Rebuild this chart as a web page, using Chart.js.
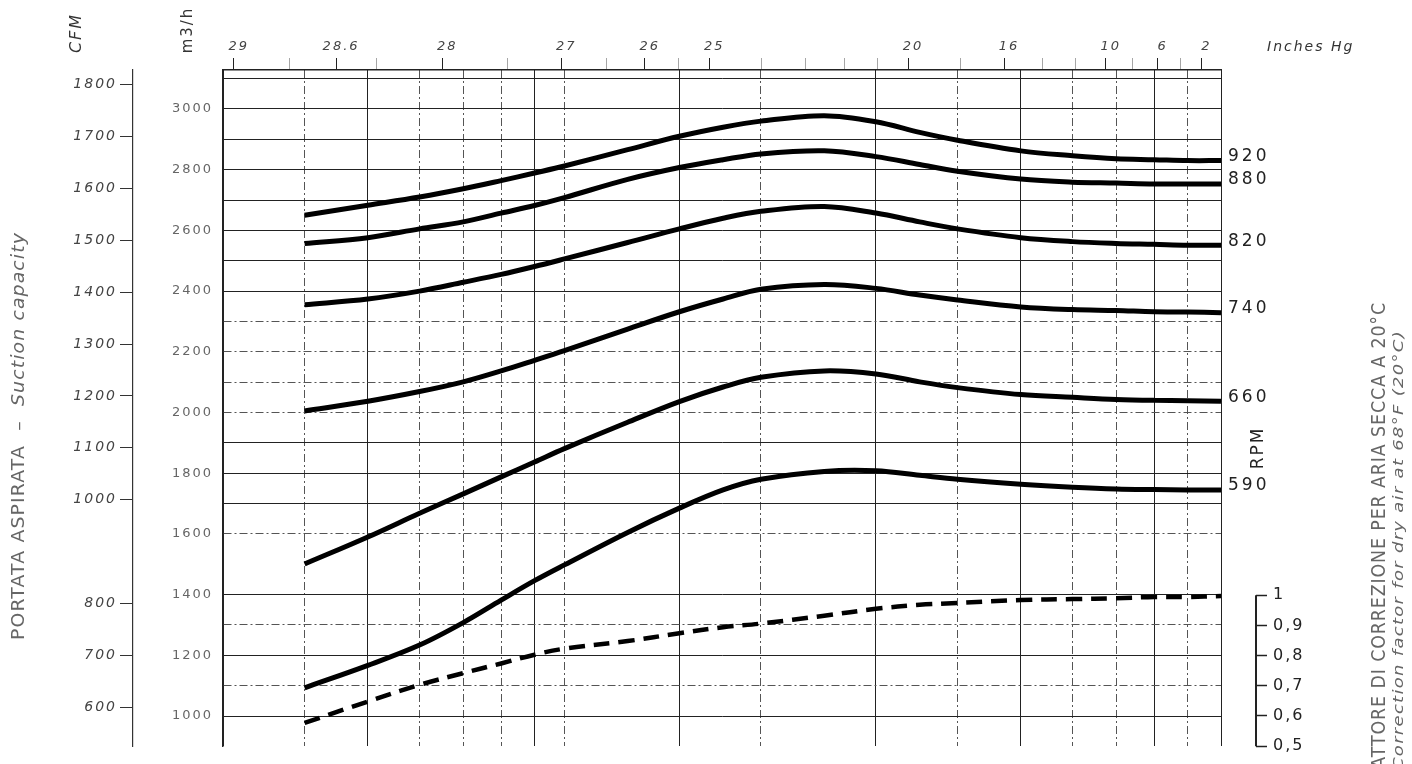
<!DOCTYPE html>
<html>
<head>
<meta charset="utf-8">
<title>Portata aspirata - Suction capacity</title>
<script src="https://cdn.jsdelivr.net/npm/chart.js@4.4.1/dist/chart.umd.min.js"></script>
<style>
    html, body { margin: 0; padding: 0; background: #fff; }
    #wrap { width: 1412px; height: 764px; }
</style>
</head>
<body>
<div id="wrap"><canvas id="fanChart" width="1412" height="764"></canvas></div>
<script>
// absolute pressure (mbar) where the curves were read, log axis
const pressureMbar = [40, 50, 60, 70, 80, 90, 100, 125, 150, 175, 200, 250, 300, 350, 400, 500, 600, 700, 800, 900, 1013];

// suction capacity m3/h for each speed
const rpmNames = ['920', '880', '820', '740', '660', '590'];
const flow920 = [2650, 2683, 2710, 2737, 2764, 2789, 2812, 2866, 2910, 2940, 2960, 2978, 2958, 2923, 2897, 2862, 2846, 2836, 2833, 2830, 2830];
const flow880 = [2557, 2576, 2605, 2628, 2657, 2682, 2708, 2768, 2807, 2833, 2852, 2862, 2843, 2817, 2795, 2769, 2759, 2756, 2753, 2753, 2753];
const flow820 = [2355, 2374, 2400, 2429, 2455, 2481, 2506, 2560, 2605, 2640, 2663, 2679, 2657, 2628, 2605, 2576, 2563, 2557, 2554, 2551, 2551];
const flow740 = [2005, 2037, 2069, 2101, 2137, 2172, 2204, 2275, 2332, 2374, 2406, 2422, 2409, 2387, 2371, 2348, 2339, 2336, 2332, 2331, 2329];
const flow660 = [1501, 1590, 1668, 1732, 1788, 1837, 1881, 1968, 2036, 2084, 2116, 2137, 2127, 2101, 2082, 2059, 2050, 2043, 2040, 2039, 2037];
const flow590 = [1093, 1167, 1234, 1308, 1382, 1446, 1498, 1605, 1685, 1745, 1780, 1806, 1808, 1793, 1780, 1764, 1754, 1748, 1746, 1745, 1745];

// correction factor for dry air at 20 C
const correctionFactor = [0.577, 0.648, 0.703, 0.742, 0.774, 0.803, 0.823, 0.848, 0.874, 0.894, 0.906, 0.932, 0.955, 0.968, 0.974, 0.984, 0.987, 0.990, 0.994, 0.994, 0.997];

// tick values
const inchesMajor = [29, 28.6, 28, 27, 26, 25, 20, 16, 10, 6, 2];
const inchesMinor = [28.8, 28.4, 27.5, 26.5, 25.5, 24, 23, 22, 21, 18, 14, 12, 8, 4];
const gridPressure = [30, 40, 50, 60, 70, 80, 90, 100, 150, 200, 300, 400, 500, 600, 700, 800, 900, 1013];
const gridFlow = [1000, 1100, 1200, 1300, 1400, 1600, 1700, 1800, 1900, 2000, 2100, 2200, 2300, 2400, 2500, 2600, 2700, 2800, 2900, 3000, 3100];
const flowLabels = [1000, 1200, 1400, 1600, 1800, 2000, 2200, 2400, 2600, 2800, 3000];
const cfmTicks = [600, 700, 800, 1000, 1100, 1200, 1300, 1400, 1500, 1600, 1700, 1800];
const factorTicks = [0.5, 0.6, 0.7, 0.8, 0.9, 1];

// which grid lines are dash-dot on the original sheet
const dashedPressure = [40, 60, 70, 80, 100, 200, 400, 600, 700, 900];
const dashedFlow = [1100, 1300, 1600, 2000, 2100, 2200, 2300];

const FONT = "'DejaVu Sans', 'Liberation Sans', sans-serif";
const DASH_DOT = [8, 3, 2, 3];

function inchesToMbar(h) {
    return (29.92 - h) * 33.864;
}

function series(values) {
    return pressureMbar.map((p, i) => ({ x: p, y: values[i] }));
}

const rpmSeries = [flow920, flow880, flow820, flow740, flow660, flow590];

const datasets = rpmSeries.map((vals, i) => ({
    label: rpmNames[i] + ' RPM',
    data: series(vals),
    xAxisID: 'x',
    yAxisID: 'y',
    borderColor: '#000',
    borderWidth: 5,
    pointRadius: 0,
    tension: 0.35,
    fill: false
}));

datasets.push({
    label: 'Fattore di correzione',
    data: series(correctionFactor),
    xAxisID: 'x',
    yAxisID: 'yf',
    borderColor: '#000',
    borderWidth: 4.5,
    borderDash: [16, 9],
    pointRadius: 0,
    tension: 0.35,
    fill: false
});

function rotatedText(ctx, parts, cx, cy, fitLen) {
    ctx.save();
    ctx.translate(cx, cy);
    ctx.rotate(-Math.PI / 2);
    let total = 0;
    parts.forEach(p => {
        ctx.font = p.font;
        p.w = ctx.measureText(p.text).width;
        total += p.w;
    });
    if (fitLen) ctx.scale(fitLen / total, 1);
    ctx.textBaseline = 'middle';
    ctx.textAlign = 'left';
    let x = -total / 2;
    parts.forEach(p => {
        ctx.font = p.font;
        ctx.fillStyle = p.color;
        ctx.fillText(p.text, x, 0);
        x += p.w;
    });
    ctx.restore();
}

const sheetText = {
    id: 'sheetText',
    beforeDraw(chart) {
        chart.ctx.letterSpacing = '2px';
    },
    afterDraw(chart) {
        const ctx = chart.ctx;

        // axis line of the correction factor scale, only from 1 down
        const yf = chart.scales.yf;
        ctx.save();
        ctx.strokeStyle = '#222';
        ctx.lineWidth = 2;
        ctx.beginPath();
        ctx.moveTo(yf.left, yf.getPixelForValue(1));
        ctx.lineTo(yf.left, yf.bottom);
        ctx.stroke();
        ctx.restore();

        // speed labels at the end of each curve
        ctx.save();
        ctx.letterSpacing = '3px';
        ctx.font = '17px ' + FONT;
        ctx.fillStyle = '#222';
        ctx.textBaseline = 'middle';
        ctx.textAlign = 'left';
        rpmNames.forEach((name, i) => {
            const pts = chart.getDatasetMeta(i).data;
            const last = pts[pts.length - 1];
            ctx.fillText(name, last.x + 7, last.y - 4);
        });
        ctx.letterSpacing = '2px';
        ctx.font = 'italic 14px ' + FONT;
        ctx.fillStyle = '#333';
        ctx.textBaseline = 'alphabetic';
        ctx.fillText('Inches Hg', 1267, 51);
        ctx.restore();

        ctx.save();
        ctx.letterSpacing = '2px';
        rotatedText(ctx, [{ text: 'RPM', font: '17px ' + FONT, color: '#222' }], 1259, 448);
        rotatedText(ctx, [{ text: 'CFM', font: 'italic 16px ' + FONT, color: '#333' }], 77, 33);
        rotatedText(ctx, [{ text: 'm3/h', font: '15px ' + FONT, color: '#333' }], 188, 30);
        ctx.letterSpacing = '1px';
        rotatedText(ctx, [
            { text: 'PORTATA ASPIRATA  \u2013  ', font: '17px ' + FONT, color: '#666' },
            { text: 'Suction capacity', font: 'italic 17px ' + FONT, color: '#666' }
        ], 20, 436, 408);
        rotatedText(ctx, [
            { text: 'FATTORE DI CORREZIONE PER ARIA SECCA A 20\u00B0C', font: '19px ' + FONT, color: '#666' }
        ], 1380, 540, 476);
        rotatedText(ctx, [
            { text: 'Correction factor for dry air at 68\u00B0F (20\u00B0C)', font: 'italic 14px ' + FONT, color: '#666' }
        ], 1399, 550, 440);
        ctx.restore();
    }
};

new Chart(document.getElementById('fanChart'), {
    type: 'line',
    data: { datasets: datasets },
    plugins: [sheetText],
    options: {
        responsive: false,
        animation: false,
        devicePixelRatio: 1,
        layout: { padding: 0 },
        plugins: {
            legend: { display: false },
            tooltip: { enabled: false }
        },
        scales: {
            x: {
                type: 'logarithmic',
                position: 'bottom',
                min: 30,
                max: 1013,
                afterBuildTicks: s => { s.ticks = gridPressure.map(v => ({ value: v })); },
                afterFit: s => { s.height = 0; },
                ticks: { display: false, autoSkip: false },
                grid: {
                    drawTicks: false,
                    lineWidth: 1,
                    color: c => (c.tick && dashedPressure.includes(c.tick.value)) ? '#555' : '#222'
                },
                border: {
                    display: false,
                    dash: c => (c.tick && dashedPressure.includes(c.tick.value)) ? DASH_DOT : []
                }
            },
            xTop: {
                type: 'logarithmic',
                position: 'top',
                min: 30,
                max: 1013,
                afterBuildTicks: s => {
                    const list = inchesMajor.map(h => ({ value: inchesToMbar(h), inches: h, isMajor: true }))
                        .concat(inchesMinor.map(h => ({ value: inchesToMbar(h), inches: h, isMajor: false })));
                    list.sort((a, b) => a.value - b.value);
                    s.ticks = list;
                },
                afterFit: s => { s.height = 70; },
                ticks: {
                    autoSkip: false,
                    maxRotation: 0,
                    padding: 4,
                    labelOffset: 5,
                    color: '#444',
                    font: { family: FONT, size: 13, style: 'italic' },
                    callback: (v, i, ticks) => ticks[i].isMajor ? String(ticks[i].inches) : ''
                },
                grid: {
                    drawOnChartArea: false,
                    tickLength: 12,
                    tickWidth: 1,
                    tickColor: c => (c.tick && c.tick.isMajor) ? '#222' : 'rgba(0,0,0,0.35)'
                },
                border: { display: true, color: '#222', width: 1.5 }
            },
            y: {
                type: 'linear',
                position: 'left',
                weight: 0,
                min: 900.7,
                max: 3128.4,
                afterBuildTicks: s => { s.ticks = gridFlow.map(v => ({ value: v })); },
                afterFit: s => { s.width = 90; },
                ticks: {
                    autoSkip: false,
                    padding: 10,
                    color: '#666',
                    font: { family: FONT, size: 13 },
                    callback: v => flowLabels.includes(v) ? String(v) : ''
                },
                grid: {
                    drawTicks: false,
                    lineWidth: 1,
                    color: c => (c.tick && dashedFlow.includes(c.tick.value)) ? '#555' : '#222'
                },
                border: {
                    display: true,
                    color: '#222',
                    width: 1.5,
                    dash: c => (c.tick && dashedFlow.includes(c.tick.value)) ? DASH_DOT : []
                }
            },
            yCfm: {
                type: 'linear',
                position: 'left',
                weight: 1,
                min: 525,
                max: 1828,
                afterBuildTicks: s => { s.ticks = cfmTicks.map(v => ({ value: v })); },
                afterFit: s => { s.width = 133; },
                ticks: {
                    autoSkip: false,
                    padding: 3,
                    color: '#444',
                    font: { family: FONT, size: 14, style: 'italic' },
                    callback: v => String(v)
                },
                grid: { drawOnChartArea: false, tickLength: 13, tickColor: '#333' },
                border: { display: true, color: '#333', width: 1.2 }
            },
            yRpm: {
                type: 'linear',
                position: 'right',
                weight: 0,
                afterFit: s => { s.width = 35; },
                ticks: { display: false },
                grid: { display: false },
                border: { display: false }
            },
            yf: {
                type: 'linear',
                position: 'right',
                weight: 1,
                min: 0.5,
                max: 2.739,
                afterBuildTicks: s => { s.ticks = factorTicks.map(v => ({ value: v })); },
                afterFit: s => { s.width = 156; },
                ticks: {
                    autoSkip: false,
                    padding: 6,
                    color: '#222',
                    font: { family: FONT, size: 16 },
                    callback: v => v === 1 ? '1' : v.toFixed(1).replace('.', ',')
                },
                grid: { drawOnChartArea: false, tickLength: 11, tickColor: '#222', tickWidth: 1.5 },
                border: { display: false }
            }
        }
    }
});
</script>
</body>
</html>
